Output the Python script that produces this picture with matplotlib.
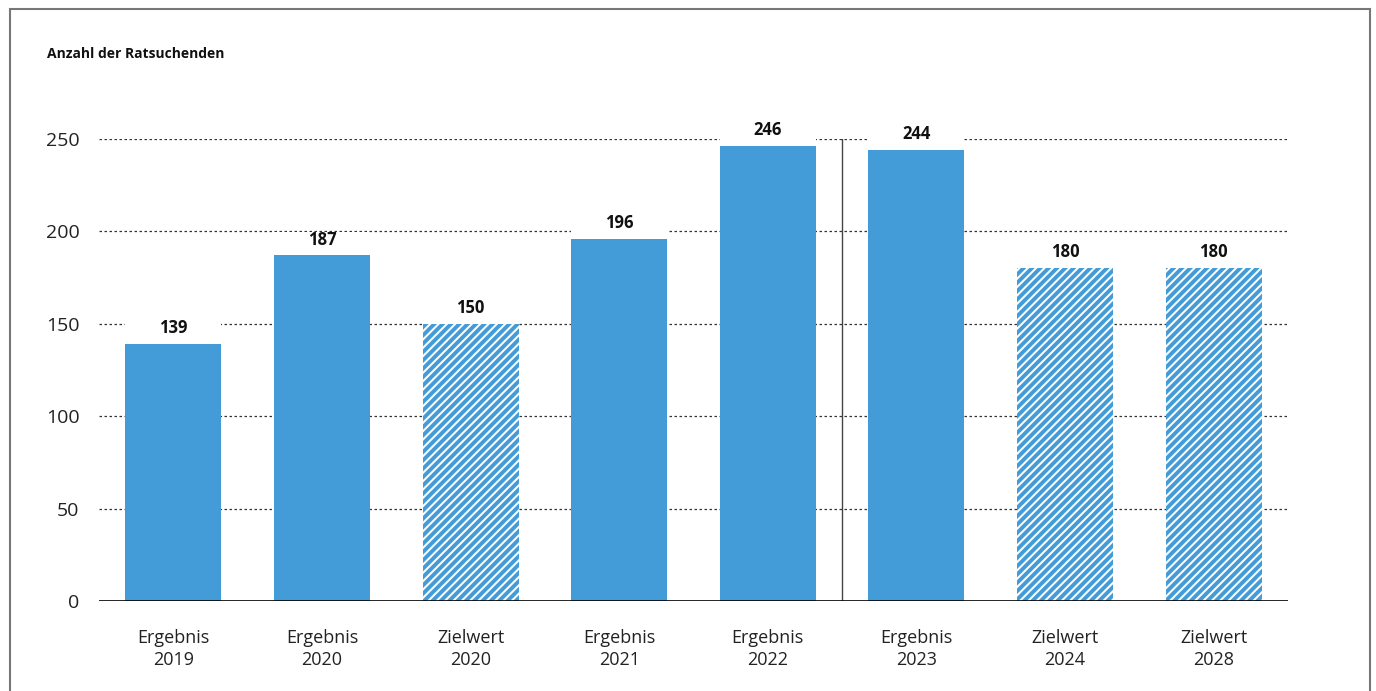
import matplotlib
matplotlib.use("Agg")
import matplotlib.pyplot as plt
from matplotlib.patches import Rectangle

plt.rcParams['font.family'] = ['Open Sans', 'DejaVu Sans']
plt.rcParams['hatch.linewidth'] = 2.8

# Data
categories = ["Ergebnis\n2019", "Ergebnis\n2020", "Zielwert\n2020", "Ergebnis\n2021",
              "Ergebnis\n2022", "Ergebnis\n2023", "Zielwert\n2024", "Zielwert\n2028"]
values = [139, 187, 150, 196, 246, 244, 180, 180]
is_target = [False, False, True, False, False, False, True, True]
y_ticks = [0, 50, 100, 150, 200, 250]
title = "Anzahl der Ratsuchenden"

blue = "#439cd8"
bar_w = 0.646

fig = plt.figure(figsize=(13.76, 6.91), dpi=100)
ax = fig.add_axes([0.07195, 0.1302, 0.936 - 0.07195, 0.7988 - 0.1302])

x = list(range(len(categories)))

# Dotted grid lines
for t in y_ticks[1:]:
    ax.axhline(t, color="#333333", lw=0.9, ls=(0, (2, 2)), zorder=1)

# White backing behind the value labels interrupts the grid
ax.bar(x, [12.5] * len(values), bottom=values, width=bar_w,
       color="white", lw=0, zorder=2)

for xi, v, tgt in zip(x, values, is_target):
    if tgt:
        ax.bar(xi, v, width=bar_w, facecolor="white", edgecolor=blue,
               hatch="////", lw=0, zorder=3)
    else:
        ax.bar(xi, v, width=bar_w, color=blue, lw=0, zorder=3)
    ax.annotate(f"{v}", (xi, v), xytext=(0, 5), textcoords="offset points",
                ha="center", va="bottom", fontsize=12, fontweight="bold",
                color="#111111", zorder=5)

# Separator between reporting periods
ax.plot([4.5, 4.5], [0, 250], color="#444444", lw=1.0, zorder=4)

ax.axhline(0, color="black", lw=1.2, zorder=6)

ax.set_xlim(-0.5, 7.5)
ax.set_ylim(0, 250)
ax.set_yticks(y_ticks)
ax.set_yticklabels([str(t) for t in y_ticks], fontsize=14, color="#222222")
ax.set_xticks(x)
ax.set_xticklabels(categories, fontsize=13, color="#222222", linespacing=1.3)
ax.tick_params(axis="both", length=0)
ax.tick_params(axis="y", pad=14)
ax.tick_params(axis="x", pad=20)
for s in ax.spines.values():
    s.set_visible(False)

fig.text(47 / 1376, 1 - 54 / 691, title, fontsize=10, fontweight="bold",
         ha="left", va="center", color="#111111")

# Outer frame
fig.add_artist(Rectangle((9.5 / 1376, -0.05), (1370 - 9.5) / 1376, 1.05 - 9.5 / 691,
                         transform=fig.transFigure, fill=False,
                         edgecolor="#777777", lw=1.5))

fig.savefig("out.png", dpi=100)
